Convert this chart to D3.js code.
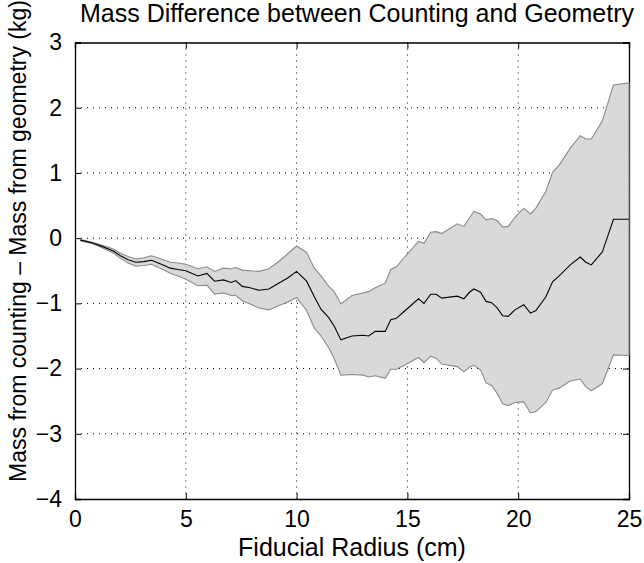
<!DOCTYPE html>
<html>
<head>
<meta charset="utf-8">
<script src="https://cdn.jsdelivr.net/npm/d3@7"></script>
<style>
  body { margin: 0; background: #fff; }
  svg text { font-family: "Liberation Sans", Arial, Helvetica, sans-serif; fill: #000; }
</style>
</head>
<body>
<svg id="chart" width="644" height="563"></svg>
<script>
// fiducial radius (cm)
var radius = [0.25, 0.75, 1.25, 1.75, 2.05, 2.4, 2.75, 3.1, 3.45, 3.9, 4.3, 4.65, 5.0, 5.55, 5.95,
  6.3, 6.7, 7.05, 7.25, 7.55, 7.9, 8.3, 8.75, 9.15, 9.6, 10.0, 10.45, 10.8, 11.1, 11.45, 11.7,
  12.0, 12.5, 13.0, 13.25, 13.55, 14.0, 14.25, 14.5, 14.8, 15.5, 15.75, 16.05, 16.3, 16.55,
  17.25, 17.55, 17.8, 18.0, 18.3, 18.55, 18.8, 19.05, 19.3, 19.55, 19.85, 20.25, 20.55, 20.8,
  21.25, 21.55, 21.85, 22.35, 22.8, 23.05, 23.3, 23.8, 24.3, 25.0];

// mass from counting - mass from geometry (kg)
var massMean = [-0.03, -0.07, -0.13, -0.20, -0.27, -0.33, -0.37, -0.36, -0.34, -0.40, -0.46, -0.48, -0.50, -0.58, -0.54,
  -0.66, -0.64, -0.68, -0.65, -0.74, -0.76, -0.80, -0.78, -0.70, -0.61, -0.51, -0.66, -0.90, -1.09, -1.22, -1.35,
  -1.56, -1.50, -1.49, -1.50, -1.43, -1.43, -1.25, -1.23, -1.14, -0.93, -1.00, -0.86, -0.86, -0.92,
  -0.89, -0.93, -0.83, -0.78, -0.83, -0.97, -0.99, -1.07, -1.19, -1.20, -1.10, -1.02, -1.15, -1.11,
  -0.90, -0.67, -0.58, -0.41, -0.29, -0.37, -0.41, -0.21, 0.29, 0.29];

var massUpper = [-0.02, -0.06, -0.11, -0.17, -0.23, -0.28, -0.32, -0.30, -0.27, -0.32, -0.37, -0.38, -0.40, -0.47, -0.44,
  -0.51, -0.46, -0.47, -0.45, -0.49, -0.50, -0.51, -0.47, -0.37, -0.24, -0.12, -0.22, -0.46, -0.58, -0.74, -0.82,
  -1.01, -0.88, -0.84, -0.82, -0.76, -0.69, -0.48, -0.44, -0.32, -0.05, -0.08, 0.09, 0.10, 0.07,
  0.22, 0.18, 0.31, 0.41, 0.37, 0.28, 0.30, 0.27, 0.17, 0.18, 0.32, 0.46, 0.37, 0.46,
  0.72, 1.01, 1.12, 1.38, 1.57, 1.52, 1.52, 1.80, 2.35, 2.38];

var massLower = [-0.04, -0.08, -0.15, -0.23, -0.31, -0.38, -0.43, -0.42, -0.40, -0.47, -0.54, -0.58, -0.63, -0.73, -0.72,
  -0.86, -0.84, -0.88, -0.88, -0.96, -1.01, -1.07, -1.10, -1.04, -0.98, -0.91, -1.11, -1.38, -1.50, -1.68, -1.85,
  -2.10, -2.09, -2.10, -2.13, -2.11, -2.15, -2.01, -2.01, -1.96, -1.83, -1.91, -1.81, -1.84, -1.93,
  -1.97, -2.05, -1.98, -1.95, -2.02, -2.22, -2.26, -2.38, -2.54, -2.57, -2.52, -2.51, -2.68, -2.66,
  -2.52, -2.33, -2.30, -2.19, -2.16, -2.28, -2.34, -2.23, -1.79, -1.80];

var xTicks = [0, 5, 10, 15, 20, 25];
var yTicks = [-4, -3, -2, -1, 0, 1, 2, 3];

var margin = { top: 42.5, left: 75, bottom: 64, right: 15 };
var svgWidth = 644, svgHeight = 563;
var width = svgWidth - margin.left - margin.right;
var height = svgHeight - margin.top - margin.bottom;

var svg = d3.select("#chart");
svg.append("rect").attr("width", svgWidth).attr("height", svgHeight).attr("fill", "#fff");

var X_scale = d3.scaleLinear().domain([0, 25]).range([0, width]);
var Y_scale = d3.scaleLinear().domain([-4, 3]).range([height, 0]);

var g = svg.append("g").attr("transform", `translate(${margin.left},${margin.top})`);

// dotted grid
g.append("g").selectAll("line")
  .data(xTicks.slice(1, -1))
  .join("line")
  .attr("x1", d => X_scale(d)).attr("x2", d => X_scale(d))
  .attr("y1", 0).attr("y2", height)
  .attr("stroke", "#000").attr("stroke-width", 1).attr("stroke-dasharray", "1,5");

g.append("g").selectAll("line")
  .data(yTicks.slice(1, -1))
  .join("line")
  .attr("x1", 0).attr("x2", width)
  .attr("y1", d => Y_scale(d)).attr("y2", d => Y_scale(d))
  .attr("stroke", "#000").attr("stroke-width", 1).attr("stroke-dasharray", "1,5");

// axes: bottom/left with labels, top/right ticks only, ticks pointing inward
var tickLen = 6;
var fmt = d => d < 0 ? "\u2212" + Math.abs(d) : String(d);

var xAxis = g.append("g").attr("transform", `translate(0,${height})`)
  .call(d3.axisBottom(X_scale).tickValues(xTicks).tickSize(-tickLen).tickPadding(12).tickFormat(fmt));
var xTop = g.append("g")
  .call(d3.axisTop(X_scale).tickValues(xTicks).tickSize(-tickLen).tickFormat(""));
var yAxis = g.append("g")
  .call(d3.axisLeft(Y_scale).tickValues(yTicks).tickSize(-tickLen).tickPadding(13).tickFormat(fmt));
var yRight = g.append("g").attr("transform", `translate(${width},0)`)
  .call(d3.axisRight(Y_scale).tickValues(yTicks).tickSize(-tickLen).tickFormat(""));

[xAxis, xTop, yAxis, yRight].forEach(function (a) {
  a.select(".domain").attr("stroke", "#000").attr("stroke-width", 1.3);
  a.selectAll(".tick line").attr("stroke", "#000");
  a.selectAll("text").attr("font-size", 23).attr("fill", "#000")
    .style("font-family", "'Liberation Sans', Arial, sans-serif");
});
xAxis.selectAll("text").attr("dy", "0.71em");

// uncertainty band
var points = radius.map((r, i) => ({ r: r, mean: massMean[i], up: massUpper[i], lo: massLower[i] }));
var band = points.map(d => [X_scale(d.r), Y_scale(d.up)])
  .concat(points.slice().reverse().map(d => [X_scale(d.r), Y_scale(d.lo)]));

g.append("path")
  .attr("d", d3.line()(band) + "Z")
  .attr("fill", "#d9d9d9")
  .attr("stroke", "#8a8a8a")
  .attr("stroke-width", 1.1);

g.append("path")
  .datum(points)
  .attr("d", d3.line().x(d => X_scale(d.r)).y(d => Y_scale(d.mean)))
  .attr("fill", "none")
  .attr("stroke", "#000")
  .attr("stroke-width", 1.1);

// labels
svg.append("text")
  .attr("x", margin.left + width / 2 + 5).attr("y", 22)
  .attr("text-anchor", "middle").attr("font-size", 25)
  .text("Mass Difference between Counting and Geometry");

svg.append("text")
  .attr("x", margin.left + width / 2).attr("y", 556)
  .attr("text-anchor", "middle").attr("font-size", 25)
  .text("Fiducial Radius (cm)");

svg.append("text")
  .attr("transform", "translate(26,241) rotate(-90)")
  .attr("text-anchor", "middle").attr("font-size", 23)
  .text("Mass from counting \u2013 Mass from geometry (kg)");
</script>
</body>
</html>
